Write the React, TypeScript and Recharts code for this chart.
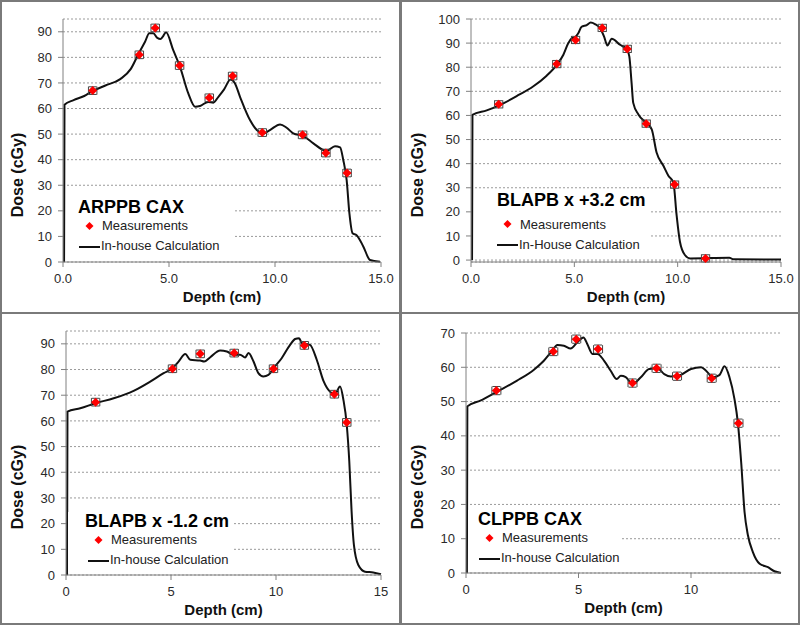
import { CartesianGrid, ComposedChart, ErrorBar, Label, Legend, Line, Scatter, XAxis, YAxis } from 'recharts';

const FONT = '"Liberation Sans", Arial, sans-serif';

// ARPPB CAX
const arppbCalcDepth = [0.05, 0.07, 0.5, 1.0, 1.35, 2.0, 2.7, 3.2, 3.55, 3.87, 4.07, 4.26, 4.45, 4.6, 4.7, 4.86, 5.2, 5.52, 5.91, 6.23, 6.46, 6.85, 7.09, 7.33, 7.6, 7.9, 8.1, 8.35, 8.82, 9.14, 9.45, 9.76, 10.24, 10.55, 10.86, 11.34, 11.81, 12.28, 12.44, 12.83, 13.07, 13.22, 13.38, 13.51, 13.66, 13.85, 14.17, 14.48, 14.95];
const arppbCalcDose = [0, 61.5, 63.3, 64.9, 66.6, 69.0, 71.5, 75.5, 81.2, 86.1, 89.4, 89.4, 87.6, 87.2, 88.0, 89.8, 82.8, 76.3, 65.9, 60.7, 61.0, 62.6, 62.3, 64.6, 67.5, 71.3, 70.0, 64.6, 55.5, 51.6, 50.3, 51.6, 53.8, 52.5, 50.3, 49.2, 46.4, 43.8, 43.5, 45.3, 44.8, 39.9, 32, 19, 11.2, 10.5, 6, 0.8, 0.1];
const arppbMeasDepth = [1.4, 3.6, 4.35, 5.5, 6.9, 8.0, 9.4, 11.3, 12.4, 13.4];
const arppbMeasDose = [67.0, 81.0, 91.5, 76.8, 64.2, 72.7, 50.6, 49.7, 42.6, 34.8];

// BLAPB x +3.2 cm
const blapbPlusCalcDepth = [0.05, 0.07, 0.76, 1.34, 2.21, 3.02, 3.66, 4.15, 4.47, 4.71, 4.87, 5.03, 5.19, 5.35, 5.6, 5.79, 6.0, 6.24, 6.44, 6.6, 6.81, 7.21, 7.53, 7.66, 7.77, 7.85, 8.1, 8.42, 8.74, 8.98, 9.31, 9.55, 9.79, 9.95, 10.11, 10.35, 10.6, 12.5, 12.7, 15.0];
const blapbPlusCalcDose = [0, 60.2, 62.1, 64.1, 68.0, 72.1, 76.5, 81.0, 85.2, 90.0, 92.0, 92.4, 94.1, 96.8, 97.5, 98.5, 97.9, 96.2, 92.7, 89.0, 91.8, 89.3, 87.5, 84.5, 73.5, 65.2, 60.4, 57.3, 54.3, 44.6, 39.1, 35.0, 32.3, 18.5, 7.6, 2.1, 0.7, 1.0, 0.3, 0.2];
const blapbPlusMeasDepth = [1.34, 4.15, 5.06, 6.35, 7.56, 8.48, 9.85, 11.35];
const blapbPlusMeasDose = [64.6, 81.3, 91.3, 96.3, 87.6, 56.6, 31.3, 0.7];

// BLAPB x -1.2 cm
const blapbMinusCalcDepth = [0.05, 0.07, 0.68, 1.41, 2.27, 3.22, 4.01, 4.65, 5.07, 5.36, 5.68, 5.92, 6.39, 6.58, 6.87, 7.34, 7.66, 7.98, 8.29, 8.53, 8.69, 8.93, 9.16, 9.4, 9.64, 9.88, 10.27, 10.67, 10.91, 11.1, 11.23, 11.62, 11.94, 12.26, 12.57, 12.81, 13.05, 13.21, 13.37, 13.49, 13.6, 13.71, 13.92, 14.24, 14.63, 15.0];
const blapbMinusCalcDose = [0, 63.6, 64.9, 66.9, 68.8, 71.7, 75.3, 78.6, 80.5, 83.1, 86.0, 83.8, 83.5, 83.1, 84.8, 87.4, 87.0, 85.7, 85.8, 84.7, 86.4, 83.1, 78.6, 77.3, 77.9, 80.5, 84.4, 89.6, 91.9, 92.2, 90.3, 89.6, 83.8, 75.6, 71.4, 70.4, 73.4, 68.2, 58.4, 44.2, 24.7, 11.7, 3.9, 1.3, 1.0, 0.3];
const blapbMinusMeasDepth = [1.41, 5.07, 6.39, 8.01, 9.88, 11.35, 12.78, 13.37];
const blapbMinusMeasDose = [67.3, 80.3, 86.1, 86.4, 80.3, 89.4, 70.4, 59.4];

// CLPPB CAX
const clppbCalcDepth = [0.04, 0.06, 0.64, 1.38, 2.27, 3.02, 3.46, 3.83, 4.06, 4.35, 4.65, 4.95, 5.22, 5.39, 5.62, 5.84, 6.14, 6.43, 6.7, 6.88, 7.1, 7.4, 7.77, 8.14, 8.51, 8.81, 9.11, 9.55, 10.0, 10.45, 10.67, 10.97, 11.26, 11.49, 11.71, 11.93, 12.08, 12.23, 12.38, 12.53, 12.75, 13.05, 13.42, 13.71, 14.0];
const clppbCalcDose = [0, 48.6, 50.3, 52.9, 56.1, 59.3, 61.9, 64.8, 66.5, 66.3, 65.5, 67.3, 68.7, 66.8, 63.9, 63.9, 61.9, 59.0, 56.6, 57.5, 57.1, 55.1, 57.1, 59.5, 59.7, 58.0, 57.3, 57.8, 59.5, 60.0, 59.0, 57.1, 57.7, 60.3, 57.1, 50.8, 44.0, 32.3, 17.8, 11.0, 6.1, 2.7, 1.7, 0.5, 0];
const clppbMeasDepth = [1.35, 3.88, 4.9, 5.87, 7.4, 8.47, 9.38, 10.92, 12.11];
const clppbMeasDose = [53.2, 64.6, 68.2, 65.3, 55.4, 59.7, 57.4, 56.8, 43.7];

const ticks15 = [0, 5, 10, 15];
const ticks14 = [0, 5, 10];
const doseTicks90 = [0, 10, 20, 30, 40, 50, 60, 70, 80, 90];
const doseTicks100 = [0, 10, 20, 30, 40, 50, 60, 70, 80, 90, 100];
const doseTicks70 = [0, 10, 20, 30, 40, 50, 60, 70];

interface PanelSpec {
  left: number;
  top: number;
  title: string;
  lineLabel: string;
  calcDepth: number[];
  calcDose: number[];
  measDepth: number[];
  measDose: number[];
  depthErr: number;
  doseErr: number;
  xMax: number;
  xTicks: number[];
  decimals: number;
  yMax: number;
  yTicks: number[];
  plotLeft: number;
  plotTop: number;
  plotBottom: number;
  boxLeft: number;
  boxWidth: number;
  titleX: number;
  lineX: number;
  titleBase: number;
  rowBase: number;
}

const panels: PanelSpec[] = [
  {
    left: 0, top: 0, title: 'ARPPB CAX', lineLabel: 'In-house Calculation',
    calcDepth: arppbCalcDepth, calcDose: arppbCalcDose, measDepth: arppbMeasDepth, measDose: arppbMeasDose,
    depthErr: 0.2, doseErr: 1.5, xMax: 15, xTicks: ticks15, decimals: 1, yMax: 95, yTicks: doseTicks90,
    plotLeft: 63, plotTop: 19, plotBottom: 262,
    boxLeft: 66, boxWidth: 168, titleX: 78, lineX: 79, titleBase: 213, rowBase: 230,
  },
  {
    left: 400, top: 0, title: 'BLAPB x +3.2 cm', lineLabel: 'In-House Calculation',
    calcDepth: blapbPlusCalcDepth, calcDose: blapbPlusCalcDose, measDepth: blapbPlusMeasDepth, measDose: blapbPlusMeasDose,
    depthErr: 0.2, doseErr: 1.5, xMax: 15, xTicks: ticks15, decimals: 1, yMax: 100, yTicks: doseTicks100,
    plotLeft: 71, plotTop: 19, plotBottom: 262,
    boxLeft: 74, boxWidth: 176, titleX: 97, lineX: 97, titleBase: 206, rowBase: 229,
  },
  {
    left: 0, top: 312, title: 'BLAPB x -1.2 cm', lineLabel: 'In-house Calculation',
    calcDepth: blapbMinusCalcDepth, calcDose: blapbMinusCalcDose, measDepth: blapbMinusMeasDepth, measDose: blapbMinusMeasDose,
    depthErr: 0.2, doseErr: 1.5, xMax: 15, xTicks: ticks15, decimals: 0, yMax: 95, yTicks: doseTicks90,
    plotLeft: 66, plotTop: 19, plotBottom: 263,
    boxLeft: 68, boxWidth: 165, titleX: 85, lineX: 88, titleBase: 215, rowBase: 232,
  },
  {
    left: 400, top: 312, title: 'CLPPB CAX', lineLabel: 'In-house Calculation',
    calcDepth: clppbCalcDepth, calcDose: clppbCalcDose, measDepth: clppbMeasDepth, measDose: clppbMeasDose,
    depthErr: 0.2, doseErr: 1.2, xMax: 14, xTicks: ticks14, decimals: 0, yMax: 70, yTicks: doseTicks70,
    plotLeft: 66, plotTop: 21, plotBottom: 261,
    boxLeft: 68, boxWidth: 152, titleX: 78, lineX: 79, titleBase: 213, rowBase: 229,
  },
];

const Y_AXIS_W = 55;
const X_AXIS_H = 40;
const CHART_W = 400;
const CHART_H = 312;
const AXIS_GREY = '#808080';

function MeasureMark(props: any) {
  const { cx, cy } = props;
  if (cx == null || cy == null) return null;
  return <path d={`M${cx},${cy - 4.5}L${cx + 4.5},${cy}L${cx},${cy + 4.5}L${cx - 4.5},${cy}Z`} fill="#ff0000" />;
}

function PanelLegend({ p }: { p: PanelSpec }) {
  const gap = Math.max(0, p.rowBase - p.titleBase - 17.26);
  const rowStyle = { display: 'flex', alignItems: 'center', height: 20, paddingLeft: p.lineX - p.boxLeft };
  return (
    <div style={{ width: p.boxWidth, fontFamily: FONT, color: '#222', whiteSpace: 'nowrap' }}>
      <div style={{ background: '#fff', height: 18, lineHeight: '18px', fontSize: 18, fontWeight: 'bold', color: '#000', paddingLeft: p.titleX - p.boxLeft }}>
        {p.title}
      </div>
      <div style={{ background: '#fff', paddingTop: gap, paddingBottom: 3 }}>
        <div style={rowStyle}>
          <svg width={21} height={20}>
            <path d="M10.5,6L14.5,10L10.5,14L6.5,10Z" fill="#ff0000" />
          </svg>
          <span style={{ marginLeft: 2, fontSize: 13 }}>Measurements</span>
        </div>
        <div style={rowStyle}>
          <svg width={21} height={20}>
            <line x1={0} y1={11} x2={21} y2={11} stroke="#111" strokeWidth={2} />
          </svg>
          <span style={{ marginLeft: 1, fontSize: 13 }}>{p.lineLabel}</span>
        </div>
      </div>
    </div>
  );
}

// rotated y-axis title, centred a little below the middle of the axis like the Excel original
function DoseTitle(props: any) {
  const vb = props.viewBox || { x: 0, y: 0, width: 0, height: 0 };
  const x = vb.x - props.marginLeft + 17;
  const y = 175;
  return (
    <text
      x={x}
      y={y}
      transform={`rotate(-90, ${x}, ${y})`}
      textAnchor="middle"
      dominantBaseline="central"
      style={{ fontSize: 16, fontWeight: 'bold', fill: '#111', fontFamily: FONT }}
    >
      Dose (cGy)
    </text>
  );
}

function DosePanel({ p }: { p: PanelSpec }) {
  const calc = p.calcDepth.map((x, i) => ({ x, y: p.calcDose[i] }));
  const meas = p.measDepth.map((x, i) => ({ x, y: p.measDose[i], ex: p.depthErr, ey: p.doseErr }));
  const marginLeft = p.plotLeft - Y_AXIS_W;
  const tickStyle = { fontSize: 13, fill: '#2a2a2a', fontFamily: FONT };

  return (
    <div style={{ position: 'absolute', left: p.left, top: p.top, width: CHART_W, height: CHART_H }}>
      <ComposedChart
        width={CHART_W}
        height={CHART_H}
        margin={{ top: p.plotTop, right: CHART_W - 381, bottom: CHART_H - p.plotBottom - X_AXIS_H, left: marginLeft }}
      >
        <CartesianGrid vertical={false} stroke="#9a9a9a" strokeDasharray="2 2" />
        <XAxis
          type="number"
          dataKey="x"
          domain={[0, p.xMax]}
          ticks={p.xTicks}
          tickFormatter={(v: number) => v.toFixed(p.decimals)}
          height={X_AXIS_H}
          tick={tickStyle}
          tickSize={5}
          tickMargin={7}
          stroke={AXIS_GREY}
          label={{ value: 'Depth (cm)', position: 'insideBottom', offset: 0, style: { fontSize: 15, fontWeight: 'bold', fill: '#111', fontFamily: FONT } }}
        />
        <XAxis xAxisId="top" type="number" orientation="top" domain={[0, p.xMax]} height={0} tick={false} tickLine={false} stroke={AXIS_GREY} />
        <YAxis type="number" domain={[0, p.yMax]} ticks={p.yTicks} width={Y_AXIS_W} tick={tickStyle} tickSize={5} tickMargin={6} stroke={AXIS_GREY}>
          <Label content={(lp: any) => <DoseTitle {...lp} marginLeft={marginLeft} />} />
        </YAxis>
        <YAxis yAxisId="right" type="number" orientation="right" domain={[0, p.yMax]} width={0} tick={false} tickLine={false} stroke={AXIS_GREY} />
        <Line data={calc} dataKey="y" type="monotone" stroke="#111" strokeWidth={2} dot={false} isAnimationActive={false} />
        <Scatter data={meas} dataKey="y" shape={MeasureMark} isAnimationActive={false}>
          <ErrorBar dataKey="ex" direction="x" width={4} stroke="#444" strokeWidth={1} isAnimationActive={false} />
          <ErrorBar dataKey="ey" direction="y" width={4} stroke="#444" strokeWidth={1} isAnimationActive={false} />
        </Scatter>
        <Legend
          layout="horizontal"
          verticalAlign="middle"
          align="center"
          wrapperStyle={{ left: p.boxLeft, top: p.titleBase - 15.24, width: p.boxWidth }}
          content={() => <PanelLegend p={p} />}
        />
      </ComposedChart>
    </div>
  );
}

const frames = [
  { left: 0, top: 0, width: 402, height: 314 },
  { left: 399, top: 0, width: 401, height: 314 },
  { left: 0, top: 312, width: 402, height: 313 },
  { left: 399, top: 312, width: 401, height: 313 },
];

export default function App() {
  return (
    <div style={{ position: 'absolute', left: 0, top: 0, width: 800, height: 625, background: '#fff', fontFamily: FONT }}>
      {frames.map((f, i) => (
        <div
          key={i}
          style={{ position: 'absolute', left: f.left, top: f.top, width: f.width, height: f.height, border: '2px solid #7a7a7a', boxSizing: 'border-box' }}
        />
      ))}
      {panels.map((p) => (
        <DosePanel key={p.title} p={p} />
      ))}
    </div>
  );
}
